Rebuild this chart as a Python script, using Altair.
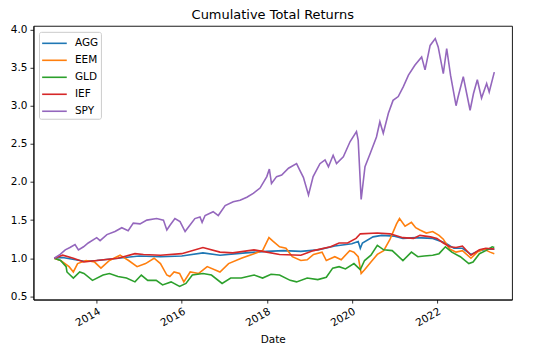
import altair as alt
import pandas as pd

# (decimal year, cumulative return)
AGG = [(2013.0, 1.00), (2013.2, 1.01), (2013.4, 0.99), (2013.7, 0.96), (2014.0, 0.97),
       (2014.5, 1.00), (2015.0, 1.03), (2015.5, 1.02), (2016.0, 1.03), (2016.5, 1.07),
       (2016.9, 1.04), (2017.5, 1.07), (2018.0, 1.09), (2018.4, 1.10), (2018.8, 1.09),
       (2019.2, 1.11), (2019.6, 1.16), (2020.0, 1.19), (2020.15, 1.22), (2020.2, 1.13),
       (2020.25, 1.20), (2020.5, 1.28), (2020.7, 1.30), (2021.0, 1.29), (2021.2, 1.26),
       (2021.5, 1.27), (2021.9, 1.26), (2022.2, 1.20), (2022.4, 1.13), (2022.6, 1.13),
       (2022.8, 1.05), (2023.0, 1.10), (2023.2, 1.12), (2023.35, 1.12)]

EEM = [(2013.0, 1.00), (2013.15, 0.97), (2013.35, 0.89), (2013.45, 0.82), (2013.55, 0.93),
       (2013.75, 0.97), (2013.95, 0.95), (2014.1, 0.87), (2014.3, 0.97), (2014.55, 1.04),
       (2014.75, 0.97), (2014.95, 0.89), (2015.15, 0.93), (2015.35, 1.00), (2015.5, 0.93),
       (2015.65, 0.78), (2015.72, 0.76), (2015.82, 0.82), (2015.95, 0.80), (2016.05, 0.69),
       (2016.2, 0.82), (2016.4, 0.80), (2016.6, 0.89), (2016.9, 0.82), (2017.1, 0.93),
       (2017.4, 1.00), (2017.7, 1.06), (2017.9, 1.10), (2018.05, 1.27), (2018.15, 1.22),
       (2018.3, 1.15), (2018.45, 1.13), (2018.6, 1.02), (2018.8, 0.97), (2018.95, 0.98),
       (2019.1, 1.05), (2019.3, 1.08), (2019.4, 0.97), (2019.6, 1.02), (2019.75, 0.98),
       (2019.95, 1.10), (2020.05, 1.08), (2020.15, 1.02), (2020.22, 0.80), (2020.3, 0.85),
       (2020.45, 0.95), (2020.6, 1.05), (2020.75, 1.10), (2020.9, 1.25), (2021.05, 1.45),
       (2021.12, 1.52), (2021.25, 1.42), (2021.4, 1.47), (2021.5, 1.40), (2021.6, 1.37),
       (2021.75, 1.33), (2021.9, 1.35), (2022.05, 1.30), (2022.15, 1.25), (2022.3, 1.12),
       (2022.45, 1.08), (2022.6, 1.10), (2022.8, 1.00), (2022.95, 1.08), (2023.1, 1.12),
       (2023.25, 1.08), (2023.35, 1.06)]

GLD = [(2013.0, 1.00), (2013.15, 0.97), (2013.28, 0.89), (2013.3, 0.82), (2013.45, 0.74),
       (2013.6, 0.82), (2013.7, 0.80), (2013.9, 0.71), (2014.15, 0.78), (2014.3, 0.80),
       (2014.5, 0.76), (2014.7, 0.74), (2014.9, 0.69), (2015.05, 0.78), (2015.2, 0.71),
       (2015.4, 0.71), (2015.55, 0.65), (2015.75, 0.69), (2015.95, 0.63), (2016.1, 0.67),
       (2016.25, 0.78), (2016.5, 0.80), (2016.7, 0.78), (2016.95, 0.67), (2017.15, 0.74),
       (2017.4, 0.74), (2017.55, 0.76), (2017.7, 0.78), (2017.9, 0.74), (2018.1, 0.79),
       (2018.3, 0.78), (2018.55, 0.71), (2018.7, 0.69), (2018.95, 0.74), (2019.2, 0.72),
       (2019.4, 0.75), (2019.55, 0.87), (2019.7, 0.89), (2019.85, 0.86), (2020.05, 0.93),
       (2020.2, 0.85), (2020.3, 0.97), (2020.45, 1.04), (2020.6, 1.17), (2020.75, 1.11),
       (2020.95, 1.10), (2021.2, 0.97), (2021.4, 1.08), (2021.55, 1.02), (2021.7, 1.03),
       (2021.9, 1.04), (2022.05, 1.06), (2022.2, 1.15), (2022.35, 1.08), (2022.55, 1.02),
       (2022.75, 0.93), (2022.85, 0.95), (2023.0, 1.06), (2023.15, 1.10), (2023.3, 1.15),
       (2023.35, 1.14)]

IEF = [(2013.0, 1.00), (2013.2, 1.04), (2013.45, 1.00), (2013.7, 0.95), (2014.0, 0.97),
       (2014.5, 1.00), (2014.9, 1.06), (2015.1, 1.05), (2015.5, 1.04), (2016.0, 1.06),
       (2016.5, 1.14), (2016.9, 1.08), (2017.2, 1.07), (2017.7, 1.11), (2018.0, 1.08),
       (2018.3, 1.05), (2018.8, 1.04), (2019.1, 1.10), (2019.5, 1.15), (2019.7, 1.20),
       (2019.9, 1.20), (2020.1, 1.26), (2020.2, 1.32), (2020.6, 1.33), (2020.9, 1.32),
       (2021.2, 1.27), (2021.45, 1.26), (2021.6, 1.30), (2021.85, 1.28), (2022.0, 1.26),
       (2022.15, 1.20), (2022.3, 1.15), (2022.45, 1.14), (2022.6, 1.16), (2022.8, 1.04),
       (2023.0, 1.11), (2023.15, 1.13), (2023.35, 1.12)]

SPY = [(2013.0, 1.00), (2013.14, 1.05), (2013.26, 1.11), (2013.37, 1.14), (2013.49, 1.18),
       (2013.57, 1.11), (2013.69, 1.15), (2013.8, 1.20), (2014.0, 1.27), (2014.08, 1.23),
       (2014.24, 1.31), (2014.43, 1.35), (2014.59, 1.40), (2014.74, 1.36), (2014.86, 1.46),
       (2015.02, 1.45), (2015.18, 1.50), (2015.41, 1.52), (2015.57, 1.50), (2015.65, 1.37),
       (2015.72, 1.43), (2015.84, 1.52), (2015.96, 1.48), (2016.08, 1.35), (2016.16, 1.41),
       (2016.31, 1.52), (2016.43, 1.54), (2016.48, 1.47), (2016.55, 1.56), (2016.74, 1.61),
       (2016.86, 1.56), (2017.02, 1.69), (2017.21, 1.74), (2017.37, 1.76), (2017.53, 1.80),
       (2017.68, 1.85), (2017.84, 1.92), (2018.0, 2.07), (2018.06, 2.17), (2018.11, 1.98),
       (2018.23, 2.07), (2018.35, 2.09), (2018.51, 2.18), (2018.7, 2.24), (2018.78, 2.15),
       (2018.86, 2.06), (2018.98, 1.83), (2019.09, 2.07), (2019.25, 2.24), (2019.37, 2.29),
       (2019.45, 2.20), (2019.56, 2.35), (2019.64, 2.24), (2019.8, 2.33), (2019.96, 2.53),
       (2020.11, 2.66), (2020.15, 2.55), (2020.22, 1.77), (2020.31, 2.20), (2020.43, 2.37),
       (2020.58, 2.59), (2020.66, 2.79), (2020.74, 2.64), (2020.86, 2.90), (2020.97, 3.07),
       (2021.09, 3.12), (2021.21, 3.25), (2021.33, 3.40), (2021.48, 3.53), (2021.64, 3.64),
       (2021.72, 3.47), (2021.84, 3.79), (2021.96, 3.88), (2022.03, 3.77), (2022.15, 3.42),
       (2022.23, 3.75), (2022.32, 3.40), (2022.45, 3.00), (2022.5, 3.12), (2022.62, 3.38),
       (2022.7, 3.16), (2022.78, 2.94), (2022.86, 3.16), (2022.95, 3.34), (2023.05, 3.10),
       (2023.17, 3.29), (2023.23, 3.18), (2023.35, 3.44)]

TICKERS = ["AGG", "EEM", "GLD", "IEF", "SPY"]
SERIES = [AGG, EEM, GLD, IEF, SPY]
COLORS = ["#1f77b4", "#ff7f0e", "#2ca02c", "#d62728", "#9467bd"]
Y_TICKS = [0.5, 1.0, 1.5, 2.0, 2.5, 3.0, 3.5, 4.0]
X_TICK_YEARS = [2014, 2016, 2018, 2020, 2022]


def to_date(t):
    year = int(t)
    return pd.Timestamp(year=year, month=1, day=1) + pd.Timedelta(days=(t - year) * 365.25)


rows = []
for name, series in zip(TICKERS, SERIES):
    for t, v in series:
        rows.append({"Date": to_date(t), "value": v, "ticker": name})
df = pd.DataFrame(rows)

chart = alt.Chart(df).mark_line(strokeWidth=1.6, clip=True).encode(
    x=alt.X(
        "Date:T",
        title="Date",
        scale=alt.Scale(domain=[alt.DateTime(year=2012, month=7, date=7),
                                alt.DateTime(year=2023, month=10, date=8)]),
        axis=alt.Axis(
            values=[alt.DateTime(year=y, month=1, date=1) for y in X_TICK_YEARS],
            format="%Y", labelAngle=330, labelAlign="right", labelBaseline="top",
            labelPadding=3, titlePadding=6,
        ),
    ),
    y=alt.Y(
        "value:Q",
        title="",
        scale=alt.Scale(domain=[0.458, 4.047], nice=False, zero=False),
        axis=alt.Axis(values=Y_TICKS, format=".1f", labelPadding=3),
    ),
    color=alt.Color(
        "ticker:N",
        scale=alt.Scale(domain=TICKERS, range=COLORS),
        legend=alt.Legend(title="", orient="none", legendX=5.5, legendY=6),
    ),
).properties(
    width=479,
    height=274,
    title="Cumulative Total Returns",
    autosize=alt.AutoSizeParams(type="none"),
    padding={"left": 25.5, "top": 17.7, "right": 20, "bottom": 47},
).configure_view(
    stroke="black", strokeWidth=0.9
).configure_axis(
    grid=False, domainColor="black", tickColor="black", labelColor="black",
    labelFont="DejaVu Sans", labelFontSize=10.5, titleFont="DejaVu Sans",
    titleFontSize=10.5, titleFontWeight="normal", titleColor="black",
    tickSize=3.5, tickWidth=0.8, domainWidth=0.9,
).configure_title(
    font="DejaVu Sans", fontSize=13, fontWeight="normal", color="black",
    anchor="middle", offset=2.5,
).configure_legend(
    symbolType="M-1.45,0H1.45", symbolSize=289, symbolStrokeWidth=1.6,
    labelFont="DejaVu Sans", labelFontSize=10.5, labelColor="black",
    rowPadding=2, labelOffset=11, padding=2, symbolOffset=4,
    strokeColor="#cccccc", fillColor="rgba(255,255,255,0.8)", cornerRadius=2,
)

chart.save("out.html", embed_options={"renderer": "svg", "actions": False})
